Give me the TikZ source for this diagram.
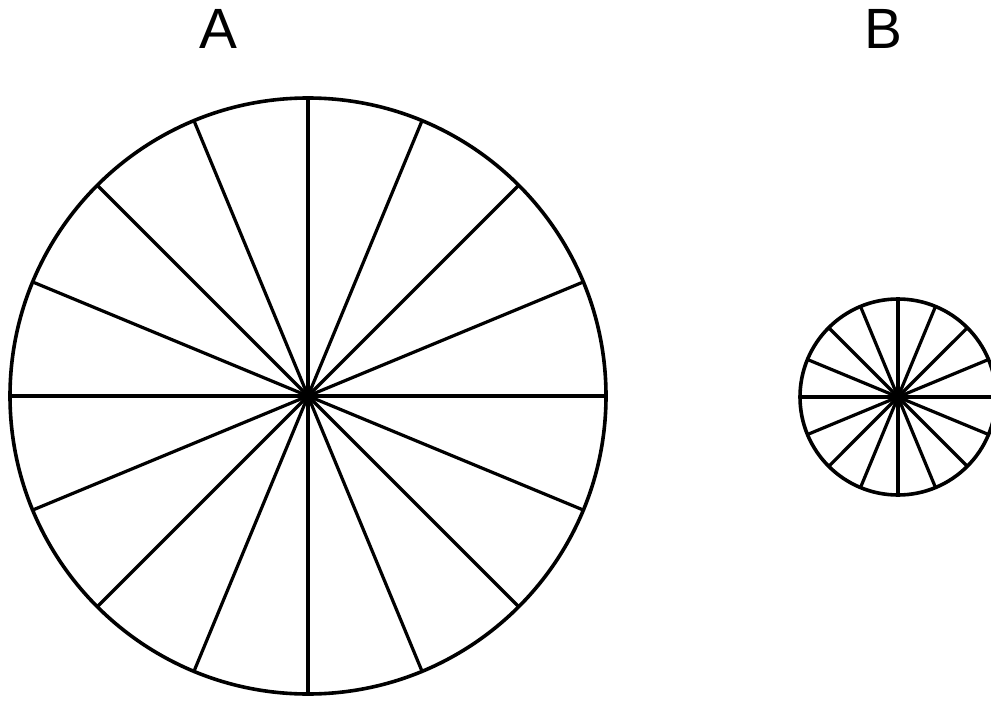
\documentclass[tikz,border=0pt]{standalone}
\usepackage{fontspec}
\setmainfont{Liberation Sans}
\tikzset{
    wheel/.style={line width=3.6bp},
    spoke/.style={line width=3.2bp},
    letter/.style={font=\fontsize{57}{60}\selectfont}
}
\begin{document}
\begin{tikzpicture}[x=1bp, y=-1bp]
    \useasboundingbox (0,0) rectangle (991,702);
    % Nhãn
    \node[letter] (labA) at (218,29) {A};
    \node[letter] (labB) at (883,29) {B};

    % Đường tròn A
    \coordinate (cA) at (308,396);
    \draw[wheel] (cA) circle (298);
    \foreach \a in {0,22.5,...,337.5}
        \draw[spoke] (cA) -- ++(\a:298);

    % Đường tròn B
    \coordinate (cB) at (898,397);
    \draw[wheel] (cB) circle (98);
    \foreach \a in {0,22.5,...,337.5}
        \draw[spoke] (cB) -- ++(\a:98);
\end{tikzpicture}
\end{document}
